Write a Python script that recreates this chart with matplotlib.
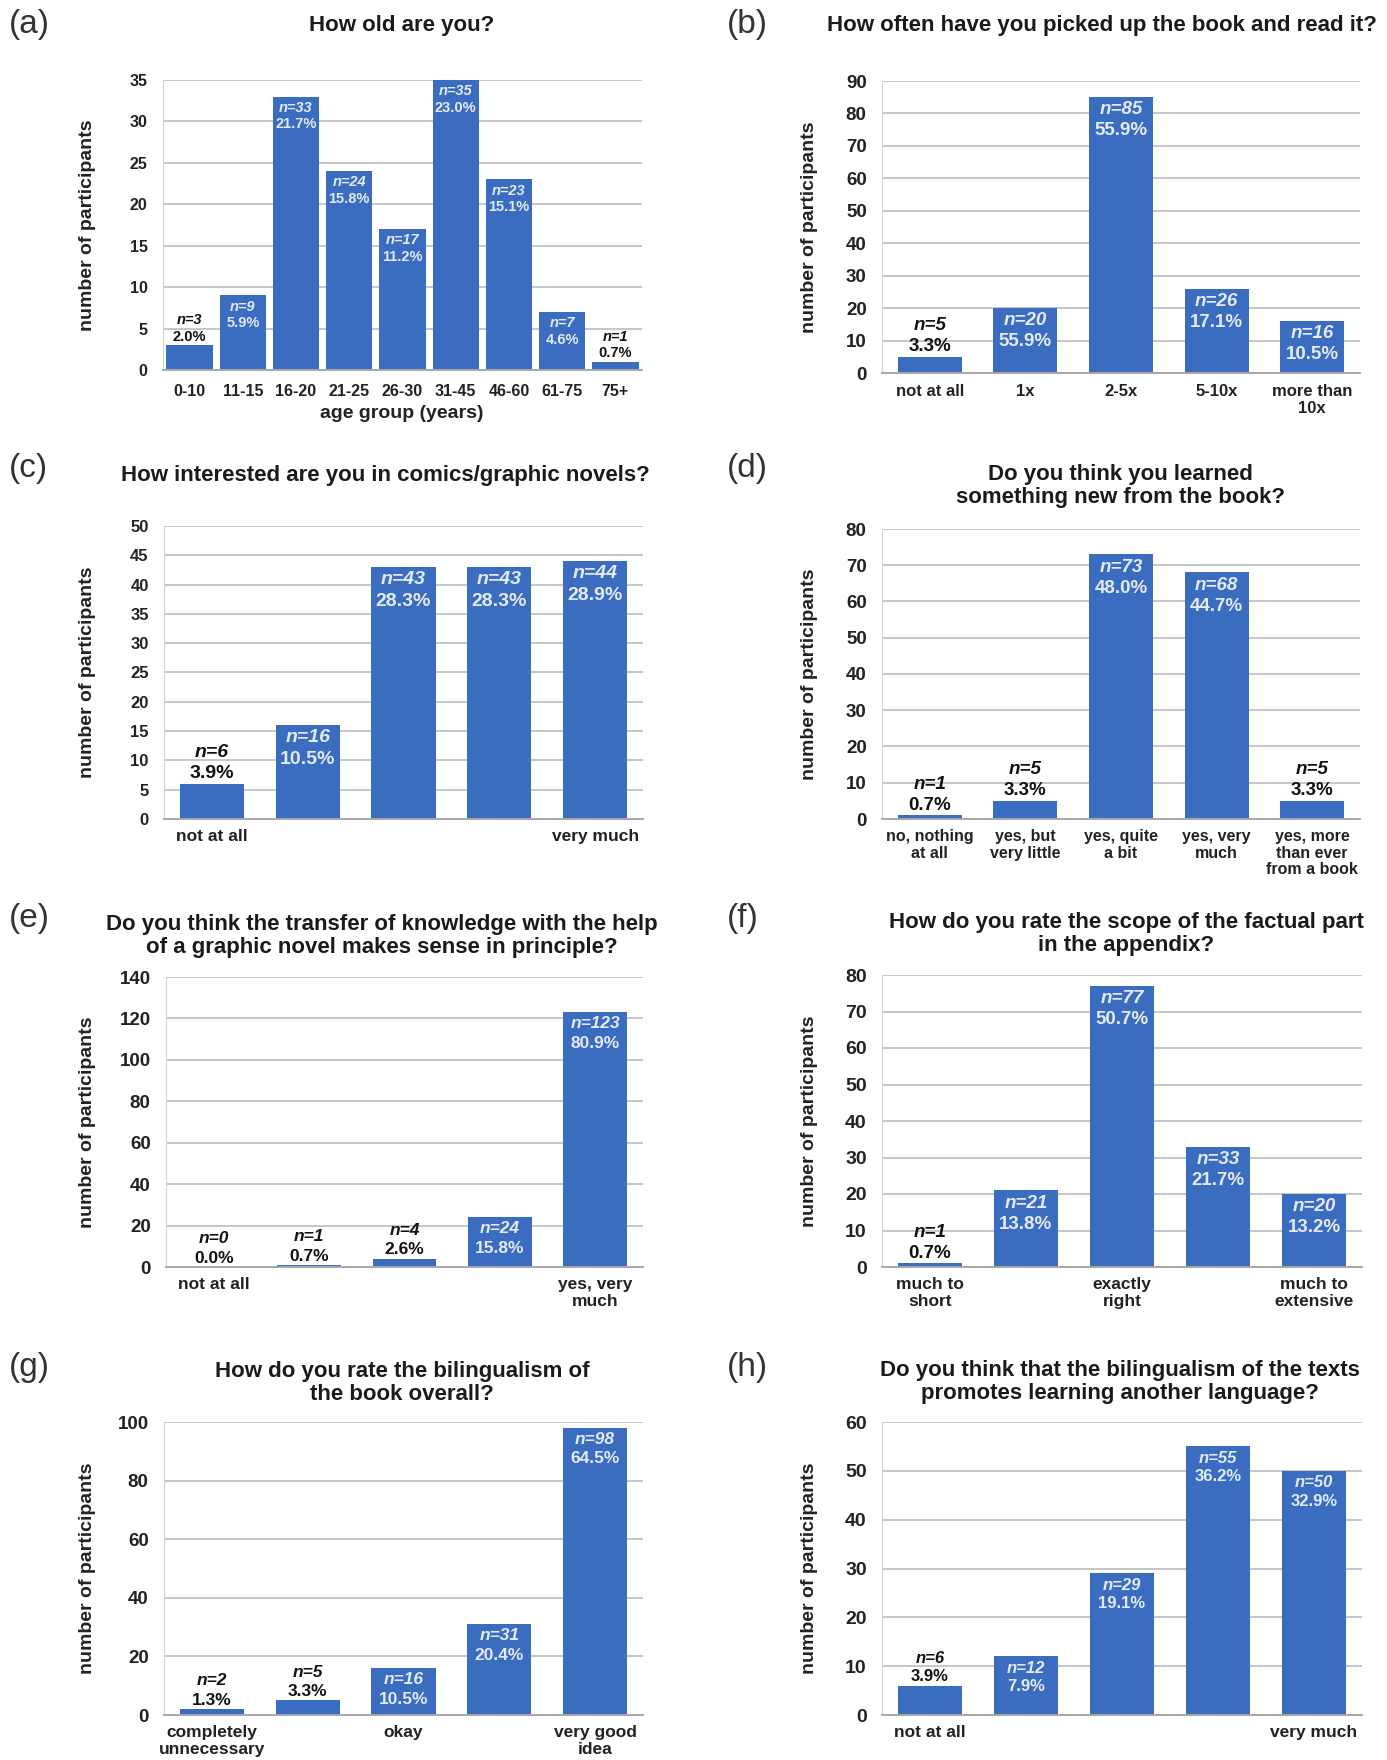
import numpy as np
import matplotlib
matplotlib.use("Agg")
import matplotlib.pyplot as plt

plt.rcParams['font.family'] = ['Liberation Sans', 'DejaVu Sans']

# ---- data ----
age_labels = ['0-10', '11-15', '16-20', '21-25', '26-30', '31-45', '46-60', '61-75', '75+']
age_n = [3, 9, 33, 24, 17, 35, 23, 7, 1]
age_pct = [2.0, 5.9, 21.7, 15.8, 11.2, 23.0, 15.1, 4.6, 0.7]

read_labels = ['not at all', '1x', '2-5x', '5-10x', 'more than\n10x']
read_n = [5, 20, 85, 26, 16]
read_pct = [3.3, 55.9, 55.9, 17.1, 10.5]

comic_labels = ['not at all', '', '', '', 'very much']
comic_n = [6, 16, 43, 43, 44]
comic_pct = [3.9, 10.5, 28.3, 28.3, 28.9]

learn_labels = ['no, nothing\nat all', 'yes, but\nvery little', 'yes, quite\na bit',
                'yes, very\nmuch', 'yes, more\nthan ever\nfrom a book']
learn_n = [1, 5, 73, 68, 5]
learn_pct = [0.7, 3.3, 48.0, 44.7, 3.3]

transfer_labels = ['not at all', '', '', '', 'yes, very\nmuch']
transfer_n = [0, 1, 4, 24, 123]
transfer_pct = [0.0, 0.7, 2.6, 15.8, 80.9]

scope_labels = ['much to\nshort', '', 'exactly\nright', '', 'much to\nextensive']
scope_n = [1, 21, 77, 33, 20]
scope_pct = [0.7, 13.8, 50.7, 21.7, 13.2]

bil_labels = ['completely\nunnecessary', '', 'okay', '', 'very good\nidea']
bil_n = [2, 5, 16, 31, 98]
bil_pct = [1.3, 3.3, 10.5, 20.4, 64.5]

lang_labels = ['not at all', '', '', '', 'very much']
lang_n = [6, 12, 29, 55, 50]
lang_pct = [3.9, 7.9, 19.1, 36.2, 32.9]

BAR = '#3a6cbf'
W, H = 1387, 1760

fig = plt.figure(figsize=(W / 100, H / 100), dpi=100)


def add_ax(x0, y0, x1, y1):
    # pixel box (top-left origin) -> figure fraction
    return fig.add_axes([x0 / W, 1 - y1 / H, (x1 - x0) / W, (y1 - y0) / H])


def bar_panel(ax, counts, pcts, labels, ymax, ystep, tick_fs, xt_fs, ann_fs, width=0.67, xpad=7):
    x = np.arange(len(counts))
    ax.bar(x, counts, width=width, color=BAR, zorder=2)
    ax.set_xlim(-0.5, len(counts) - 0.5)
    ax.set_ylim(0, ymax)
    ax.set_yticks(np.arange(0, ymax + 1, ystep))
    ax.set_xticks(x)
    ax.set_xticklabels(labels, fontsize=xt_fs, fontweight='bold', color='#222222', linespacing=1.15)
    ax.tick_params(axis='y', length=0, pad=11, labelsize=tick_fs)
    ax.tick_params(axis='x', length=0, pad=xpad)
    for t in ax.get_yticklabels():
        t.set_fontweight('bold')
        t.set_color('#222222')
    ax.yaxis.grid(True, color='#c6c6c6', lw=1.4)
    ax.set_axisbelow(True)
    for s in ['top', 'right']:
        ax.spines[s].set_visible(False)
    ax.spines['left'].set_color('#d2d2d2')
    ax.spines['bottom'].set_color('#a8a8a8')
    ax.spines['bottom'].set_linewidth(1.4)

    step = 1.12 * ann_fs
    for xi, n, p in zip(x, counts, pcts):
        if n < 0.14 * ymax:
            # small bars: black labels above the bar
            ax.annotate(f'{p:.1f}%', (xi, n), xytext=(0, 1), textcoords='offset points',
                        ha='center', va='bottom', fontsize=ann_fs, fontweight='bold',
                        color='#111111', zorder=3)
            ax.annotate(f'n={n}', (xi, n), xytext=(0, 1 + step), textcoords='offset points',
                        ha='center', va='bottom', fontsize=ann_fs, fontweight='bold',
                        style='italic', color='#111111', zorder=3)
        else:
            ax.annotate(f'n={n}', (xi, n), xytext=(0, -3), textcoords='offset points',
                        ha='center', va='top', fontsize=ann_fs, fontweight='bold',
                        style='italic', color='#e4eaf6', zorder=3)
            ax.annotate(f'{p:.1f}%', (xi, n), xytext=(0, -3 - step), textcoords='offset points',
                        ha='center', va='top', fontsize=ann_fs, fontweight='bold',
                        color='#e4eaf6', zorder=3)


def ylab(x, y0, y1):
    fig.text(x / W, 1 - (y0 + y1) / 2 / H, 'number of participants', rotation=90,
             ha='center', va='center', fontsize=14, fontweight='bold', color='#222222')


def title(x, y, s):
    fig.text(x / W, 1 - y / H, s, ha='center', va='center', fontsize=16,
             fontweight='bold', color='#1a1a1a', linespacing=1.1)


def letter(x, y, s):
    fig.text(x / W, 1 - y / H, s, ha='left', va='center', fontsize=24, color='#333333')


LX, RX = 9, 727      # panel letter x
LY, RY = 88, 810     # y-label centre x

# (a)
ax = add_ax(163, 80, 642, 370)
bar_panel(ax, age_n, age_pct, age_labels, 35, 5, 11.5, 11.5, 10.5, width=0.87, xpad=10)
title(402, 25, 'How old are you?')
letter(LX, 25, '(a)')
ylab(LY, 80, 370)
fig.text(402 / W, 1 - 413 / H, 'age group (years)', ha='center', va='center',
         fontsize=14, fontweight='bold', color='#222222')

# (b)
ax = add_ax(882, 81, 1360, 373)
bar_panel(ax, read_n, read_pct, read_labels, 90, 10, 13.5, 12, 13.5, xpad=8)
title(1102, 25, 'How often have you picked up the book and read it?')
letter(RX, 25, '(b)')
ylab(RY, 81, 373)

# (c)
ax = add_ax(164, 526, 643, 819)
bar_panel(ax, comic_n, comic_pct, comic_labels, 50, 5, 12, 12.5, 14)
title(385, 475, 'How interested are you in comics/graphic novels?')
letter(LX, 469, '(c)')
ylab(LY, 526, 819)

# (d)
ax = add_ax(882, 529, 1360, 819)
bar_panel(ax, learn_n, learn_pct, learn_labels, 80, 10, 13.5, 11.5, 13.5)
title(1120, 486, 'Do you think you learned\nsomething new from the book?')
letter(RX, 469, '(d)')
ylab(RY, 529, 819)

# (e)
ax = add_ax(166, 977, 643, 1267)
bar_panel(ax, transfer_n, transfer_pct, transfer_labels, 140, 20, 13.5, 12.5, 12.5)
title(382, 936, 'Do you think the transfer of knowledge with the help\nof a graphic novel makes sense in principle?')
letter(LX, 918, '(e)')
ylab(LY, 977, 1267)

# (f)
ax = add_ax(882, 975, 1362, 1267)
bar_panel(ax, scope_n, scope_pct, scope_labels, 80, 10, 14, 12.5, 13.5)
title(1126, 934, 'How do you rate the scope of the factual part\nin the appendix?')
letter(RX, 918, '(f)')
ylab(RY, 975, 1267)

# (g)
ax = add_ax(164, 1422, 643, 1715)
bar_panel(ax, bil_n, bil_pct, bil_labels, 100, 20, 13.5, 12.5, 12.5)
title(402, 1383, 'How do you rate the bilingualism of\nthe book overall?')
letter(LX, 1367, '(g)')
ylab(LY, 1422, 1715)

# (h)
ax = add_ax(882, 1422, 1362, 1715)
bar_panel(ax, lang_n, lang_pct, lang_labels, 60, 10, 14, 12.5, 12)
title(1120, 1382, 'Do you think that the bilingualism of the texts\npromotes learning another language?')
letter(RX, 1367, '(h)')
ylab(RY, 1422, 1715)

fig.savefig('out.png', dpi=100, facecolor='white')
